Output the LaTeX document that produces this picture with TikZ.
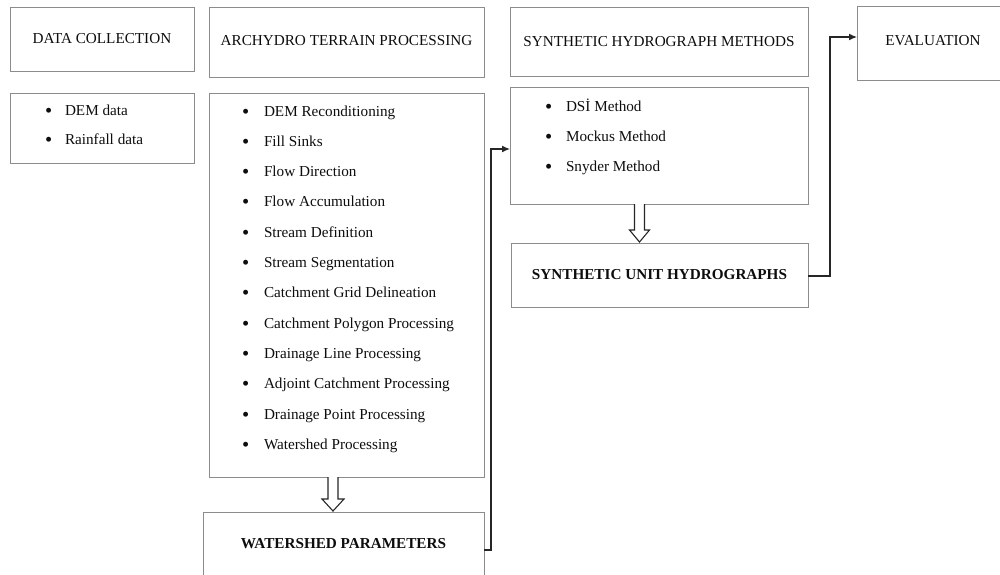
\documentclass[tikz,border=0pt]{standalone}
\usepackage{fontspec}
\setmainfont{Liberation Serif}
\usetikzlibrary{arrows.meta}
\definecolor{boxline}{gray}{0.55}
\definecolor{ink}{gray}{0.05}
\newcommand{\blt}{\raisebox{-2pt}{\scalebox{1.35}{\textbullet}}}
\begin{document}
\begin{tikzpicture}[x=1pt,y=-1pt,
  box/.style={draw=boxline, line width=0.9pt, rectangle, inner sep=0pt, outer sep=0pt,
              text=ink, font=\fontsize{15.2}{18}\selectfont},
  item/.style={inner sep=0pt, outer sep=0pt, text=ink, font=\fontsize{15.2}{18}\selectfont},
  conn/.style={draw=black!85, line width=1.3pt, -{Latex[length=8pt,width=7pt]}},
  hollow/.style={draw=black!85, line width=1.1pt, fill=white, line join=miter}
]
\useasboundingbox (0,0) rectangle (1000,574);
\clip (0,0) rectangle (1000,574);

% column 1: data collection
\node[box, minimum width=184pt, minimum height=64pt] (dc) at (102,39) {DATA COLLECTION};
\node[box, minimum width=184pt, minimum height=70pt] (dl) at (102,128) {};
\foreach \t [count=\i from 0] in {DEM data, Rainfall data}
  \node[item, anchor=base west] (d\i) at (45,{115+29*\i}) {\makebox[20pt][l]{\blt}\t};

% column 2: ArcHydro terrain processing
\node[box, minimum width=275pt, minimum height=70pt, text depth=3pt] (ah) at (346.5,42) {ARCHYDRO TERRAIN PROCESSING};
\node[box, minimum width=275pt, minimum height=384pt] (al) at (346.5,285) {};
\foreach \t [count=\i from 0] in {DEM Reconditioning, Fill Sinks, Flow Direction,
    Flow Accumulation, Stream Definition, Stream Segmentation,
    Catchment Grid Delineation, Catchment Polygon Processing,
    Drainage Line Processing, Adjoint Catchment Processing,
    Drainage Point Processing, Watershed Processing}
  \node[item, anchor=base west] (a\i) at (242,{116+30.3*\i}) {\makebox[22pt][l]{\blt}\t};
\node[box, minimum width=281pt, minimum height=64pt] (wp) at (343.5,544) {\bfseries WATERSHED PARAMETERS};

% column 3: synthetic hydrograph methods
\node[box, minimum width=298pt, minimum height=69pt] (sh) at (659,41.5) {SYNTHETIC HYDROGRAPH METHODS};
\node[box, minimum width=298pt, minimum height=117pt] (sl) at (659,145.5) {};
\foreach \t [count=\i from 0] in {DSİ Method, Mockus Method, Snyder Method}
  \node[item, anchor=base west] (s\i) at (545,{111+30*\i}) {\makebox[21pt][l]{\blt}\t};
\node[box, minimum width=297pt, minimum height=64pt] (su) at (659.5,275) {\bfseries SYNTHETIC UNIT HYDROGRAPHS};

% column 4: evaluation
\node[box, minimum width=152pt, minimum height=74pt, text depth=6pt] (ev) at (933,43) {EVALUATION};

% hollow down arrows
\draw[hollow] ([xshift=-18.5pt]al.south) -- ++(0,22) -- ++(-6,0) -- ++(11,12)
  -- ++(11,-12) -- ++(-6,0) -- ++(0,-22);
\draw[hollow] ([xshift=-24.5pt]sl.south) -- ++(0,26) -- ++(-5,0) -- ++(10,12)
  -- ++(10,-12) -- ++(-5,0) -- ++(0,-26);

% elbow connectors
\draw[conn] ([yshift=-6pt]wp.east) -- ++(7,0) |- ([yshift=-3.5pt]sl.west);
\draw[conn] ([yshift=-1pt]su.east) -- ++(22,0) |- ([yshift=6pt]ev.west);
\end{tikzpicture}
\end{document}
